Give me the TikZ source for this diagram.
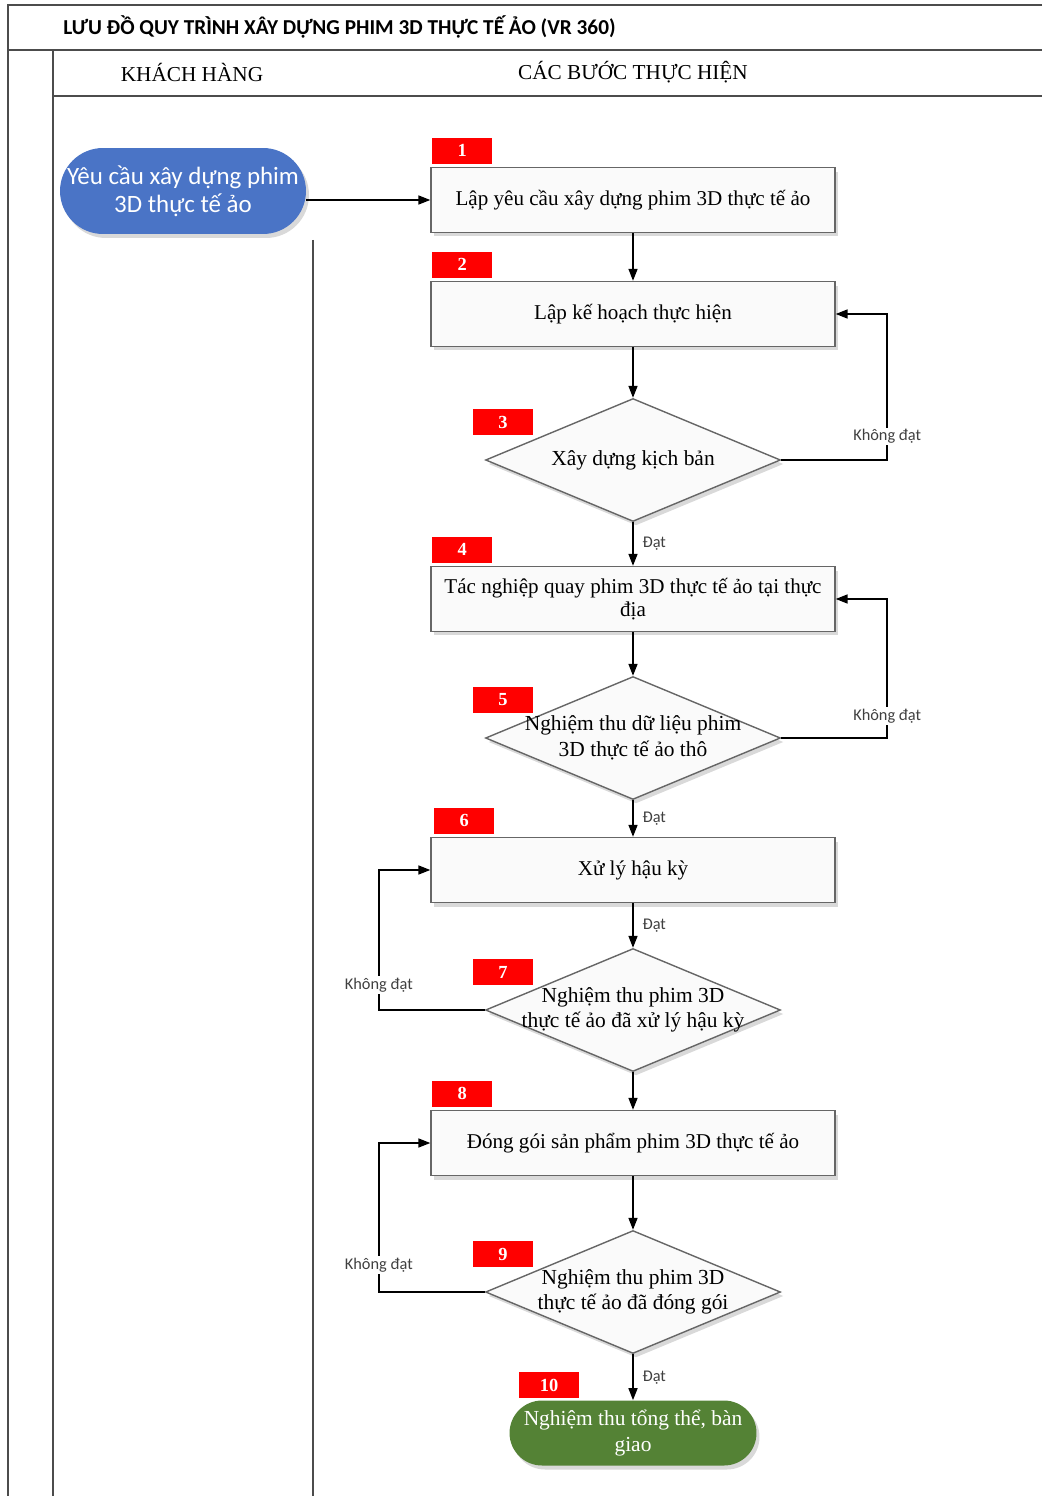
\documentclass[tikz,border=0pt]{standalone}
\usepackage{fontspec}
\setmainfont{Liberation Serif}
\newfontfamily\calibri{Carlito}
\usetikzlibrary{shapes.geometric, arrows.meta, calc, shadows}
\definecolor{startblue}{HTML}{4A74C6}
\definecolor{endgreen}{HTML}{548235}

\begin{document}
\begin{tikzpicture}[x=0.02cm, y=-0.02cm,
	frame/.style={draw=black!70, line width=1.2pt},
	shade/.style={drop shadow={opacity=0.3, shadow xshift=0.6mm, shadow yshift=-0.8mm}},
	stepbox/.style={rectangle, draw=black!60, thick, fill=black!2, shade,
		minimum width=8.08cm, minimum height=1.3cm, align=center,
		font=\fontsize{12}{13.5}\selectfont},
	decision/.style={diamond, draw=black!60, thick, fill=black!2, shade,
		minimum width=5.9cm, minimum height=2.46cm, inner sep=0pt},
	dtext/.style={align=center, inner sep=0pt, font=\fontsize{12.2}{14.5}\selectfont},
	terminal/.style={rectangle, rounded corners=#1, text=white, align=center, shade},
	tag/.style={rectangle, fill=red, text=white, font=\bfseries\fontsize{10.5}{12}\selectfont,
		minimum width=1.2cm, minimum height=0.52cm, inner sep=0pt},
	flow/.style={-{Triangle[length=2.4mm, width=1.8mm]}, line width=0.9pt},
	note/.style={font=\calibri\fontsize{9.3}{11}\selectfont, text=black!75, inner sep=1pt}]
	
	% Frame
	\useasboundingbox (0,0) rectangle (1042,1496);
	\draw[frame] (1042,5) -- (8,5) -- (8,1496);
	\draw[frame] (8,50) -- (1042,50);
	\draw[frame] (53,50) -- (53,1496);
	\draw[frame] (53,96) -- (1042,96);
	\draw[frame] (313,240) -- (313,1496);
	
	\node[anchor=west, inner sep=0pt, font=\calibri\bfseries\fontsize{12.1}{14}\selectfont] (title) at (63,27)
	{LƯU ĐỒ QUY TRÌNH XÂY DỰNG PHIM 3D THỰC TẾ ẢO (VR 360)};
	\node[font=\fontsize{12.1}{14}\selectfont] (lane1) at (192,72) {KHÁCH HÀNG};
	\node[font=\fontsize{12.1}{14}\selectfont] (lane2) at (633,72) {CÁC BƯỚC THỰC HIỆN};
	
	% Customer
	\node[terminal=0.86cm, fill=startblue, minimum width=4.92cm, minimum height=1.72cm,
	font=\calibri\fontsize{14.2}{16}\selectfont] (start) at (183,191) {Yêu cầu xây dựng phim\\3D thực tế ảo};
	
	% Steps
	\node[stepbox] (b1) at (633,200) {Lập yêu cầu xây dựng phim 3D thực tế ảo};
	\node[stepbox] (b2) at ($(b1)+(0,114)$) {Lập kế hoạch thực hiện};
	\node[decision, label={[dtext]center:Xây dựng kịch bản}] (d3) at ($(b1)+(0,260)$) {};
	\node[stepbox] (b4) at ($(b1)+(0,399)$) {Tác nghiệp quay phim 3D thực tế ảo tại thực\\địa};
	\node[decision, label={[dtext]center:{Nghiệm thu dữ liệu phim\\3D thực tế ảo thô}}] (d5) at ($(b1)+(0,538)$) {};
	\node[stepbox] (b6) at ($(b1)+(0,670)$) {Xử lý hậu kỳ};
	\node[decision, label={[dtext]center:{Nghiệm thu phim 3D\\thực tế ảo đã xử lý hậu kỳ}}] (d7) at ($(b1)+(0,810)$) {};
	\node[stepbox] (b8) at ($(b1)+(0,943)$) {Đóng gói sản phẩm phim 3D thực tế ảo};
	\node[decision, label={[dtext]center:{Nghiệm thu phim 3D\\thực tế ảo đã đóng gói}}] (d9) at ($(b1)+(0,1092)$) {};
	\node[terminal=0.65cm, fill=endgreen, minimum width=4.94cm, minimum height=1.3cm,
	font=\fontsize{12.2}{15}\selectfont] (finish) at ($(b1)+(0,1233)$) {Nghiệm thu tổng thể, bàn\\giao};
	
	% Step numbers
	\node[tag] (t1) at ($(b1.north west)+(32,-16)$) {1};
	\node[tag] (t2) at ($(b2.north west)+(32,-16)$) {2};
	\node[tag] (t3) at ($(d3)+(-130,-38)$) {3};
	\node[tag] (t4) at ($(b4.north west)+(32,-16)$) {4};
	\node[tag] (t5) at ($(d5)+(-130,-38)$) {5};
	\node[tag] (t6) at ($(b6.north west)+(34,-16)$) {6};
	\node[tag] (t7) at ($(d7)+(-130,-38)$) {7};
	\node[tag] (t8) at ($(b8.north west)+(32,-16)$) {8};
	\node[tag] (t9) at ($(d9)+(-130,-38)$) {9};
	\node[tag] (t10) at ($(finish.north west)+(40,-15)$) {10};
	
	% Connections
	\draw[flow] (start.east |- b1.west) -- (b1.west);
	\draw[flow] (b1) -- (b2);
	\draw[flow] (b2) -- (d3);
	\draw[flow] (d3) -- (b4) node[midway, right, xshift=4, note] {Đạt};
	\draw[flow] (d3.east) -- ++(106,0) |- (b2.east) node[pos=0.08, note, fill=white] {Không đạt};
	\draw[flow] (b4) -- (d5);
	\draw[flow] (d5) -- (b6) node[midway, right, xshift=4, note] {Đạt};
	\draw[flow] (d5.east) -- ++(106,0) |- (b4.east) node[pos=0.08, note, fill=white] {Không đạt};
	\draw[flow] (b6) -- (d7) node[midway, right, xshift=4, note] {Đạt};
	\draw[flow] (d7.west) -- ++(-106,0) |- (b6.west) node[pos=0.09, note, fill=white] {Không đạt};
	\draw[flow] (d7) -- (b8);
	\draw[flow] (b8) -- (d9);
	\draw[flow] (d9.west) -- ++(-106,0) |- (b8.west) node[pos=0.09, note, fill=white] {Không đạt};
	\draw[flow] (d9) -- (finish) node[midway, right, xshift=4, note] {Đạt};
\end{tikzpicture}
\end{document}
